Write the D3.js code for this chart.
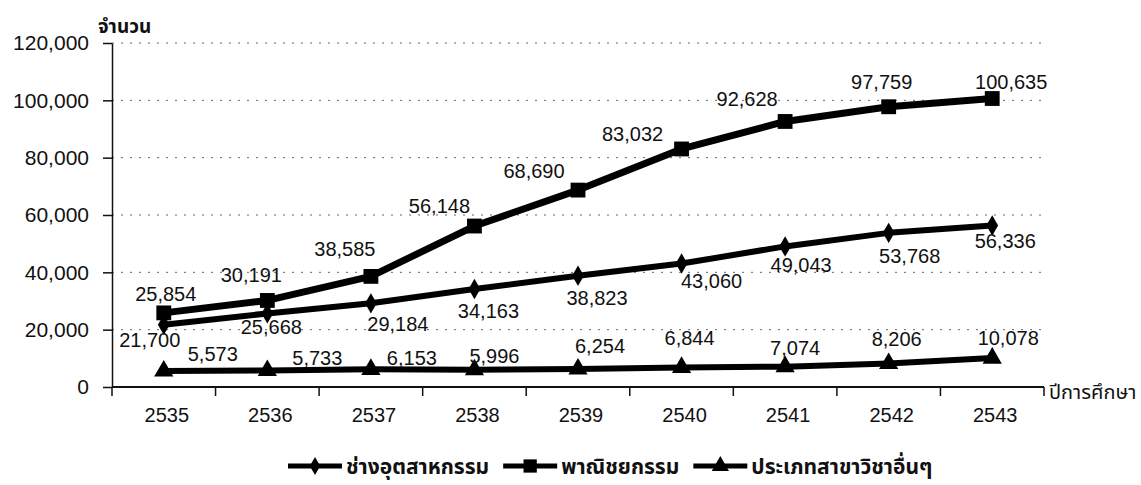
<!DOCTYPE html>
<html>
<head>
<meta charset="utf-8">
<script src="https://cdn.jsdelivr.net/npm/d3@7"></script>
<style>
  body { margin: 0; background: #fff; }
  svg { display: block; }
</style>
</head>
<body>
<div id="chart"></div>
<script>
// Student numbers by field, academic years 2535-2543

const years = ["2535", "2536", "2537", "2538", "2539", "2540", "2541", "2542", "2543"];
const seriesNames = ["ช่างอุตสาหกรรม", "พาณิชยกรรม", "ประเภทสาขาวิชาอื่นๆ"];
const industrial = [21700, 25668, 29184, 34163, 38823, 43060, 49043, 53768, 56336];
const commerce = [25854, 30191, 38585, 56148, 68690, 83032, 92628, 97759, 100635];
const others = [5573, 5733, 6153, 5996, 6254, 6844, 7074, 8206, 10078];
const yTicks = [0, 20000, 40000, 60000, 80000, 100000, 120000];

// label offsets from each point (dx, dy to baseline)
const industrialLabelOffsets = [[-14, 22], [4, 21], [27, 28], [14, 29], [19, 29], [30, 24], [16, 26], [21, 30], [13, 22]];
const commerceLabelOffsets = [[2, -12], [-16, -18], [-26, -20], [-35, -13], [-44, -12], [-49, -8], [-38, -15], [-7, -18], [19, -10]];
const othersLabelOffsets = [[49, -10], [50, -6], [41, -4], [20, -7], [22, -16], [8, -22], [10, -12], [8, -17], [16, -13]];

const NUM_FONT = "Liberation Sans, Arial, Helvetica, sans-serif";
const THAI_FONT = "Noto Sans Thai, Noto Sans, DejaVu Sans, sans-serif";

const width = 1141;
const height = 485;
const margin = { left: 112, right: 97, top: 43, bottom: 98 };

const svg = d3.select("#chart").append("svg")
    .attr("width", width)
    .attr("height", height);

const x = d3.scaleBand()
    .domain(years)
    .range([margin.left, width - margin.right])
    .padding(0);

const y = d3.scaleLinear()
    .domain([0, 120000])
    .range([height - margin.bottom, margin.top]);

const cx = d => x(d) + x.bandwidth() / 2;

// gridlines
svg.append("g")
    .selectAll("line")
    .data(yTicks.filter(v => v > 0))
    .join("line")
    .attr("x1", margin.left)
    .attr("x2", width - margin.right)
    .attr("y1", d => y(d))
    .attr("y2", d => y(d))
    .attr("stroke", "#666")
    .attr("stroke-width", 1)
    .attr("stroke-dasharray", "2,7");

// y axis
const yAxis = svg.append("g")
    .attr("transform", `translate(${margin.left},0)`)
    .call(d3.axisLeft(y).tickValues(yTicks).tickFormat(d3.format(",")).tickSize(9).tickPadding(14).tickSizeOuter(0));
yAxis.select(".domain").attr("stroke", "#111").attr("stroke-width", 1.5);
yAxis.selectAll(".tick line").attr("stroke", "#111").attr("stroke-width", 1.5);
yAxis.selectAll(".tick text")
    .attr("font-family", NUM_FONT)
    .attr("font-size", "21px")
    .attr("fill", "#111");

// x axis: labels centred in bands, ticks on band edges
const xAxis = svg.append("g")
    .attr("transform", `translate(0,${y(0)})`)
    .call(d3.axisBottom(x).tickSize(0).tickPadding(21));
xAxis.select(".domain").remove();
xAxis.selectAll(".tick text")
    .attr("dx", 3)
    .attr("font-family", NUM_FONT)
    .attr("font-size", "20px")
    .attr("fill", "#111");

svg.append("line")
    .attr("x1", margin.left)
    .attr("x2", width - margin.right)
    .attr("y1", y(0))
    .attr("y2", y(0))
    .attr("stroke", "#111")
    .attr("stroke-width", 2);

const edges = years.map(d => x(d)).concat([x(years[years.length - 1]) + x.bandwidth()]);
svg.append("g")
    .selectAll("line")
    .data(edges)
    .join("line")
    .attr("x1", d => d)
    .attr("x2", d => d)
    .attr("y1", y(0))
    .attr("y2", y(0) + 9)
    .attr("stroke", "#111")
    .attr("stroke-width", 1.5);

// axis titles
svg.append("text")
    .attr("x", 98)
    .attr("y", 33)
    .attr("font-family", THAI_FONT)
    .attr("font-size", "19px")
    .attr("font-weight", "bold")
    .attr("fill", "#111")
    .text("จำนวน");

svg.append("text")
    .attr("x", width - margin.right + 5)
    .attr("y", y(0) + 12)
    .attr("font-family", THAI_FONT)
    .attr("font-size", "20px")
    .attr("fill", "#111")
    .text("ปีการศึกษา");

// series
const series = [
    { name: seriesNames[0], values: industrial, offsets: industrialLabelOffsets, symbol: d3.symbolDiamond, size: 120, width: 6 },
    { name: seriesNames[1], values: commerce, offsets: commerceLabelOffsets, symbol: d3.symbolSquare, size: 220, width: 7 },
    { name: seriesNames[2], values: others, offsets: othersLabelOffsets, symbol: d3.symbolTriangle, size: 160, width: 6 }
];

const line = d3.line()
    .x((d, i) => cx(years[i]))
    .y(d => y(d));

series.forEach(s => {
    svg.append("path")
        .datum(s.values)
        .attr("fill", "none")
        .attr("stroke", "#000")
        .attr("stroke-width", s.width)
        .attr("stroke-linejoin", "round")
        .attr("d", line);

    svg.append("g")
        .selectAll("path")
        .data(s.values)
        .join("path")
        .attr("transform", (d, i) => `translate(${cx(years[i])},${y(d)})`)
        .attr("d", d3.symbol().type(s.symbol).size(s.size))
        .attr("fill", "#000");

    svg.append("g")
        .selectAll("text")
        .data(s.values)
        .join("text")
        .attr("x", (d, i) => cx(years[i]) + s.offsets[i][0])
        .attr("y", (d, i) => y(d) + s.offsets[i][1])
        .attr("text-anchor", "middle")
        .attr("font-family", NUM_FONT)
        .attr("font-size", "20px")
        .attr("fill", "#111")
        .text(d => d3.format(",")(d));
});

// legend
const legend = svg.append("g")
    .attr("transform", `translate(288, 466)`);

let lx = 0;
series.forEach(s => {
    const item = legend.append("g").attr("transform", `translate(${lx},0)`);
    item.append("line")
        .attr("x1", 0)
        .attr("x2", 54)
        .attr("y1", 0)
        .attr("y2", 0)
        .attr("stroke", "#000")
        .attr("stroke-width", 5);
    item.append("path")
        .attr("transform", "translate(27,0)")
        .attr("d", d3.symbol().type(s.symbol).size(s.size * 0.8))
        .attr("fill", "#000");
    const t = item.append("text")
        .attr("x", 58)
        .attr("y", 8)
        .attr("font-family", THAI_FONT)
        .attr("font-size", "21px")
        .attr("font-weight", "bold")
        .attr("fill", "#111")
        .text(s.name);
    lx += 58 + t.node().getComputedTextLength() + 14;
});
</script>
</body>
</html>
